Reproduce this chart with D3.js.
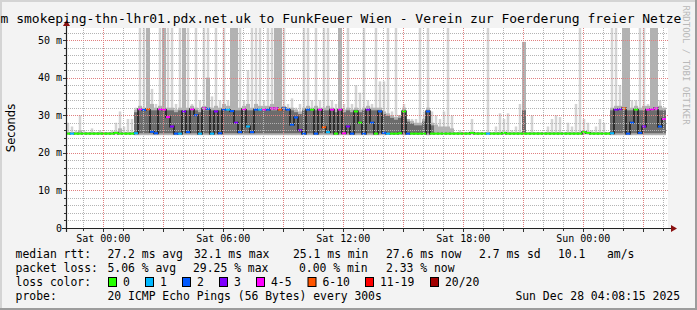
<!DOCTYPE html>
<meta charset="utf-8">
<style>
  body { margin: 0; background: #f3f3f3; }
  text { font-family: "DejaVu Sans Mono", monospace; fill: #000; }
  .gmin { stroke: #b4b4b4; stroke-dasharray: 1,1; shape-rendering: crispEdges; }
  .gmaj { stroke: #e08080; stroke-dasharray: 1,1; shape-rendering: crispEdges; }
  .tick { stroke: #333; shape-rendering: crispEdges; }
</style>
<body>
<script src="https://d3js.org/d3.v7.min.js"></script>
<script>
// one sample every 12 minutes over the last 30 hours
var endTime = new Date(2025, 11, 28, 4, 8, 15);
var stepMin = 12;

// median rtt (ms)
var med = [
  25.1,25.1,25.1,25.1,25.1,25.1,25.1,25.1,25.1,25.1,
  25.1,25.1,25.3,25.1,25.1,25.1,25.1,25.2,31.6,31.4,
  31.6,25.6,25.2,31.6,31.5,29.5,27.0,25.1,25.1,31.0,
  25.5,31.6,30.0,25.1,31.8,31.7,25.1,31.0,25.2,31.5,
  31.5,31.1,28.0,25.5,31.6,27.0,25.5,31.5,31.5,31.5,
  31.5,31.8,31.8,31.5,31.8,31.5,27.5,29.4,26.0,25.1,
  31.5,31.5,25.1,31.5,26.8,25.5,31.5,25.1,31.5,25.2,
  27.0,25.1,31.0,28.0,25.1,31.5,28.0,25.1,31.0,25.3,
  25.1,25.1,25.1,25.2,31.0,25.1,25.1,25.1,25.1,25.1,
  31.0,25.1,25.1,25.1,25.1,25.1,25.1,25.1,25.1,25.1,
  25.1,25.3,25.1,25.1,25.1,25.1,25.1,25.1,25.1,25.3,
  25.1,25.1,25.1,25.1,25.1,25.1,25.1,25.1,25.1,25.1,
  25.1,25.1,25.1,25.1,25.1,25.1,25.1,25.1,25.1,25.5,
  25.3,25.1,25.1,25.1,25.1,25.1,25.2,31.5,31.6,31.8,
  25.1,28.0,31.5,25.3,27.0,31.5,31.6,31.8,27.0,29.0];

// lost pings out of 20
var loss = [
  0,1,0,0,0,0,0,0,0,0,
  0,0,0,0,0,0,0,1,4,2,
  6,2,2,4,4,4,3,2,1,3,
  2,4,2,1,4,2,1,3,2,2,
  1,2,3,2,4,1,2,2,1,4,
  2,4,4,6,2,2,2,2,3,2,
  2,0,2,4,6,1,4,0,4,4,
  3,2,0,0,2,3,2,0,2,2,
  1,0,0,0,0,2,0,0,0,0,
  2,0,0,0,0,0,0,0,0,0,
  0,0,0,0,0,1,0,0,0,0,
  0,0,0,0,0,0,0,0,0,0,
  0,0,0,0,0,0,0,0,0,0,
  0,0,0,0,0,0,1,3,3,6,
  2,2,0,2,3,4,4,4,2,4];

// smoke: fastest ping, upper spread, slowest ping (ms)
var smokeLo = [
  24.9,24.9,24.9,24.9,24.9,24.9,24.9,24.9,24.9,24.9,
  24.9,24.9,24.9,24.9,24.9,24.9,24.9,24.7,24.7,24.7,
  24.7,24.7,24.7,24.7,24.7,24.7,24.7,24.7,24.7,24.7,
  24.7,24.7,24.7,24.7,24.7,24.7,24.7,24.7,24.7,24.7,
  24.7,24.7,24.7,24.7,24.7,24.7,24.7,24.7,24.7,24.7,
  24.7,24.7,24.7,24.7,24.7,24.7,24.7,24.7,24.7,24.7,
  24.7,24.7,24.7,24.7,24.7,24.7,24.7,24.7,24.7,24.7,
  24.7,24.7,24.7,24.7,24.7,24.7,24.7,24.7,24.7,24.7,
  24.8,24.8,24.8,24.8,24.7,24.8,24.8,24.8,24.8,24.8,
  24.7,24.8,24.9,24.9,24.9,24.9,24.9,24.9,24.9,24.9,
  24.9,24.9,24.9,24.9,24.9,24.9,24.9,24.9,24.9,24.9,
  24.9,24.9,24.9,24.9,24.9,24.9,24.9,24.9,24.9,24.9,
  24.9,24.9,24.9,24.9,24.9,24.9,24.9,24.9,24.9,24.9,
  24.9,24.9,24.9,24.9,24.9,24.9,24.7,24.7,24.7,24.7,
  24.7,24.7,24.7,24.7,24.7,24.7,24.7,24.7,24.7,24.7];
var smokeHi = [
  25.5,25.5,25.5,26,25.5,25.5,25.5,25.5,25.5,25.5,
  25.5,25.5,25.6,26.5,25.5,25.5,25.5,31.5,32.5,32,
  60,33,32,32.5,60,32,32,31.5,32,60,
  32,32.5,32,31.5,32.5,40,32,32.5,32,33,
  32.5,60,60,32,32.5,33,32,33,32.5,32.5,
  32.5,33,60,60,32.5,32,32,31.5,31,32,
  32.5,32,32.5,32,32,32.5,32,31.5,60,31.5,
  32,31.5,32,31.5,32,32.5,32,32,32,31,
  30.5,30,29.5,30,32,29,28.5,28,28,29,
  32,28,27.5,27,27,27,26.5,25.5,25.5,25.5,
  25.5,25.5,25.5,25.5,25.5,25.5,25.5,25.5,25.5,25.5,
  25.5,25.5,25.5,25.5,49.5,25.5,25.5,25.5,25.5,25.5,
  25.5,25.5,25.5,25.5,25.5,25.5,25.5,25.5,25.5,25.5,
  25.5,25.5,25.5,25.5,25.5,25.5,32,32.5,32.5,60,
  60,32,32.5,32,32.5,32.5,60,60,32.5,32];
var smokeMax = [
  28,27,26,30,26,25.5,26.5,25.5,26,25.5,
  25.5,26,28,31,27,29,29,32,60,60,
  60,37,33,60,60,60,60,33,60,60,
  60,33,60,34,60,60,35,60,34,60,
  34,60,60,60,34,42,60,60,60,34,
  60,60,60,60,60,33,34.5,32,33,60,
  60,34,60,34,60,60,34,33,60,33,
  60,33,38,36,60,34,33,60,39,39,
  60,31,60,30,33,29,29,29,60,31,
  60,31,30,29,31,60,30,25.5,26,25.5,
  25.5,29,25.5,25.5,25.5,60,25.5,27,30.5,29,
  30.5,26,27,33,49.5,25.5,30,25.5,25.5,25.5,
  27,29,30,29.5,25.5,28,27,33,60,29,
  28,26,27,29,28,25.5,60,60,38,60,
  60,34,34,60,60,33,60,60,34,32];

var lossBins = ["0", "1", "2", "3", "4-5", "6-10", "11-19", "20/20"];
var lossColors = ["#26ff00", "#00b8ff", "#0059ff", "#7e00ff", "#ff00ff", "#ff5500", "#ff0000", "#a10000"];

var yTickLabels = ["0", "10 m", "20 m", "30 m", "40 m", "50 m"];

var W = 697, H = 310;
var startTime = d3.timeHour.offset(endTime, -30);

var svg = d3.select("body").append("svg")
    .attr("width", W).attr("height", H);

// background + 3d frame
svg.append("rect").attr("width", W).attr("height", H).attr("fill", "#f3f3f3");
svg.append("path").attr("d", "M0,0H697V2H2V310H0Z").attr("fill", "#d4d4d4");
svg.append("path").attr("d", "M697,0V310H0V308H695V0Z").attr("fill", "#9c9c9c");

var x = d3.scaleTime().domain([startTime, endTime]).range([66, 666]);
var y = d3.scaleLinear().domain([0, 53.2]).range([228, 28]);

svg.append("rect").attr("x", 66).attr("y", 28).attr("width", 602).attr("height", 200).attr("fill", "#fff");

var samples = med.map(function(m, i) {
  var t = d3.timeMinute.offset(startTime, i * stepMin);
  return { t: t, t1: d3.timeMinute.offset(t, stepMin), med: m, loss: loss[i],
           lo: smokeLo[i], hi: smokeHi[i], max: smokeMax[i], prev: i > 0 ? med[i - 1] : m };
});

function binOf(l) {
  if (l <= 3) return l;
  if (l <= 5) return 4;
  if (l <= 10) return 5;
  if (l <= 19) return 6;
  return 7;
}

svg.append("clipPath").attr("id", "clip").append("rect")
    .attr("x", 66).attr("y", 28).attr("width", 600).attr("height", 200);
var plot = svg.append("g").attr("clip-path", "url(#clip)");

// smoke layers: slowest pings as thin spikes, spread as full-width bands
plot.selectAll(".s0").data(samples).enter().append("rect")
    .attr("x", function(d) { return x(d.t) + 0.75; })
    .attr("width", function(d) { return x(d.t1) - x(d.t) - 1.5; })
    .attr("y", function(d) { return y(d.max); })
    .attr("height", function(d) { return y(d.lo) - y(d.max); })
    .attr("fill", "#d4d4d4");
plot.selectAll(".s1").data(samples).enter().append("rect")
    .attr("x", function(d) { return x(d.t); })
    .attr("width", function(d) { return x(d.t1) - x(d.t); })
    .attr("y", function(d) { return y(d.hi); })
    .attr("height", function(d) { return y(d.lo) - y(d.hi); })
    .attr("fill", "#b2b2b2");
plot.selectAll(".s2").data(samples.filter(function(d) { return d.hi - d.lo > 3; })).enter().append("rect")
    .attr("x", function(d) { return x(d.t); })
    .attr("width", function(d) { return x(d.t1) - x(d.t); })
    .attr("y", function(d) { return y(Math.min(d.hi, 32) - 0.7); })
    .attr("height", function(d) { return y(d.lo + 0.5) - y(Math.min(d.hi, 32) - 0.7); })
    .attr("fill", "#6c6c6c");

// grid
var grid = svg.append("g");
var yMinor = d3.range(2, 53, 2).filter(function(v) { return v % 10 !== 0; });
var yMajor = d3.range(10, 53, 10);
grid.selectAll(".ym").data(yMinor).enter().append("line").attr("class", "gmin")
    .attr("x1", 64).attr("x2", 668)
    .attr("y1", function(v) { return Math.round(y(v)) + 0.5; })
    .attr("y2", function(v) { return Math.round(y(v)) + 0.5; });
var hours = d3.timeHour.range(startTime, endTime);
var major3 = d3.timeHour.every(3).range(startTime, endTime);
var majorSet = new Set(major3.map(Number));
grid.selectAll(".xm").data(hours.filter(function(t) { return !majorSet.has(+t); })).enter().append("line").attr("class", "gmin")
    .attr("y1", 28).attr("y2", 230)
    .attr("x1", function(t) { return Math.round(x(t)) + 0.5; })
    .attr("x2", function(t) { return Math.round(x(t)) + 0.5; });
grid.selectAll(".yM").data(yMajor).enter().append("line").attr("class", "gmaj")
    .attr("x1", 63).attr("x2", 668)
    .attr("y1", function(v) { return Math.round(y(v)) + 0.5; })
    .attr("y2", function(v) { return Math.round(y(v)) + 0.5; });
grid.selectAll(".xM").data(major3).enter().append("line").attr("class", "gmaj")
    .attr("y1", 28).attr("y2", 231)
    .attr("x1", function(t) { return Math.round(x(t)) + 0.5; })
    .attr("x2", function(t) { return Math.round(x(t)) + 0.5; });

// ticks on the axes
grid.selectAll(".yt").data(d3.range(2, 53, 2)).enter().append("line").attr("class", "tick")
    .attr("x1", function(v) { return v % 10 === 0 ? 63 : 64; }).attr("x2", 66)
    .attr("y1", function(v) { return Math.round(y(v)) + 0.5; })
    .attr("y2", function(v) { return Math.round(y(v)) + 0.5; });
grid.selectAll(".xt").data(hours).enter().append("line").attr("class", "tick")
    .attr("y1", 229).attr("y2", function(t) { return majorSet.has(+t) ? 232 : 231; })
    .attr("x1", function(t) { return Math.round(x(t)) + 0.5; })
    .attr("x2", function(t) { return Math.round(x(t)) + 0.5; });

// median: dark connectors, then loss-coloured steps
plot.selectAll(".mc").data(samples.slice(1)).enter().append("rect")
    .attr("x", function(d) { return x(d.t) - 0.75; })
    .attr("width", 1.5)
    .attr("y", function(d) { return y(Math.max(d.med, d.prev)) - 1; })
    .attr("height", function(d) { return Math.abs(y(d.med) - y(d.prev)) + 2; })
    .attr("fill", "#1a1a1a");
plot.selectAll(".ml").data(samples).enter().append("rect")
    .attr("x", function(d) { return x(d.t); })
    .attr("width", function(d) { return x(d.t1) - x(d.t); })
    .attr("y", function(d) { return y(d.med) - 1; })
    .attr("height", 2)
    .attr("fill", function(d) { return lossColors[binOf(d.loss)]; });

// axes
var axisG = svg.append("g");
axisG.append("line").attr("x1", 62).attr("x2", 672).attr("y1", 228.5).attr("y2", 228.5)
    .attr("stroke", "#222").attr("stroke-width", 1.2);
axisG.append("line").attr("x1", 66.5).attr("x2", 66.5).attr("y1", 232).attr("y2", 25)
    .attr("stroke", "#222").attr("stroke-width", 1.2);
axisG.append("path").attr("d", "M671,225L677,228.5L671,232Z").attr("fill", "#8a1010");
axisG.append("path").attr("d", "M63,26L66.5,20L70,26Z").attr("fill", "#8a1010");

// y labels
svg.selectAll(".yl").data(yTickLabels).enter().append("text")
    .attr("x", 62)
    .attr("y", function(s, i) { return y(i * 10) + 3.6; })
    .attr("text-anchor", "end")
    .style("font-size", "10px")
    .text(function(s) { return s; });

svg.append("text")
    .attr("transform", "translate(14.5,128) rotate(-90)")
    .attr("text-anchor", "middle")
    .style("font-family", "'DejaVu Sans', sans-serif")
    .style("font-size", "11.5px")
    .text("Seconds");

// x labels
var fmt = d3.timeFormat("%a %H:%M");
svg.selectAll(".xl").data(d3.timeHour.every(6).range(startTime, endTime)).enter().append("text")
    .attr("x", function(t) { return x(t); })
    .attr("y", 241.5)
    .attr("text-anchor", "middle")
    .style("font-size", "10px")
    .text(function(t) { return fmt(t); });

// title
svg.append("text")
    .attr("x", 0.5).attr("y", 23)
    .style("font-size", "13px")
    .text("m smokeping-thn-lhr01.pdx.net.uk to FunkFeuer Wien - Verein zur Foerderung freier Netze");

// watermark
svg.append("text")
    .attr("transform", "translate(682.5,5.5) rotate(90)")
    .style("font-size", "9px")
    .style("fill", "#b8b8b8")
    .text("RRDTOOL / TOBI OETIKER");

// legend
var legendRows = [
  [[15.6, "median rtt:"], [107.5, "27.2 ms avg"], [194, "32.1 ms max"], [293, "25.1 ms min"],
   [386, "27.6 ms now"], [479, "2.7 ms sd"], [558, "10.1"], [607, "am/s"]],
  [[15.6, "packet loss:"], [107.5, "5.06 % avg"], [193, "29.25 % max"], [299, "0.00 % min"], [386, "2.33 % now"]],
  [[15.6, "loss color:"]],
  [[15.6, "probe:"], [107.5, "20 ICMP Echo Pings (56 Bytes) every 300s"]]
];
var rowY = [258, 272, 286, 300];
legendRows.forEach(function(row, r) {
  svg.selectAll(null).data(row).enter().append("text")
      .attr("x", function(d) { return d[0]; })
      .attr("y", rowY[r])
      .style("font-size", "11.4px")
      .text(function(d) { return d[1]; });
});
svg.append("text").attr("x", 680).attr("y", rowY[3])
    .attr("text-anchor", "end").style("font-size", "11.4px")
    .text("Sun Dec 28 04:08:15 2025");

var swatchX = [108, 145, 182, 219, 256, 307.5, 365, 430];
var sw = svg.selectAll(".sw").data(lossBins).enter().append("g")
    .attr("transform", function(d, i) { return "translate(" + swatchX[i] + ",0)"; });
sw.append("rect").attr("x", 0.5).attr("y", 277.5).attr("width", 8).attr("height", 9)
    .attr("fill", function(d, i) { return lossColors[i]; })
    .attr("stroke", "#000");
sw.append("text").attr("x", 15).attr("y", rowY[2])
    .style("font-size", "11.4px")
    .text(function(d) { return d; });
</script>
</body>
